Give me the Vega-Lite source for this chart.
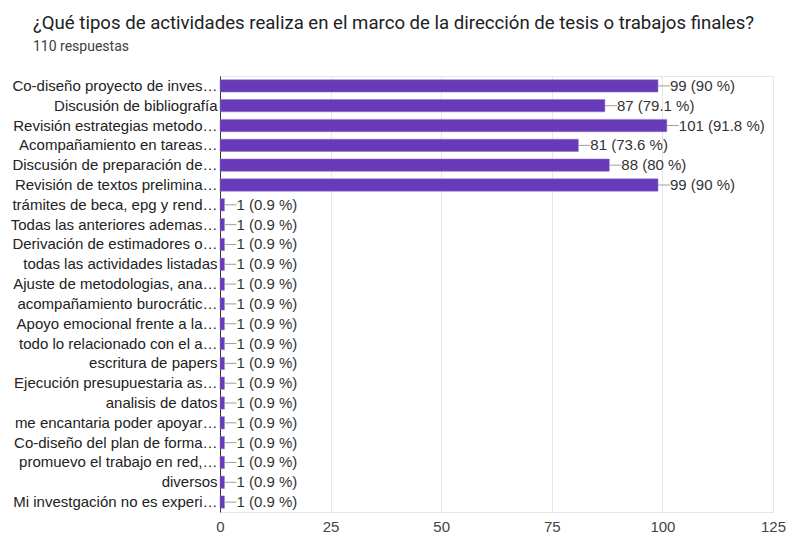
{
  "$schema": "https://vega.github.io/schema/vega-lite/v6.json",
  "autosize": "none",
  "width": 553,
  "height": 436,
  "padding": {"left": 220, "top": 76, "right": 14, "bottom": 24},
  "background": "white",
  "title": {
    "text": "¿Qué tipos de actividades realiza en el marco de la dirección de tesis o trabajos finales?",
    "subtitle": "110 respuestas",
    "anchor": "start",
    "frame": "group",
    "dx": -187,
    "offset": 22,
    "font": "Roboto",
    "fontSize": 18.6,
    "fontWeight": "normal",
    "color": "#202124",
    "subtitleFont": "Roboto",
    "subtitleFontSize": 14,
    "subtitleColor": "#3c4043",
    "subtitlePadding": 7
  },
  "config": {
    "view": {"stroke": "#e6e6e6", "strokeWidth": 1},
    "font": "Liberation Sans"
  },
  "data": {
    "values": [
      {"actividad": "Co-diseño proyecto de inves…", "n": 99, "label": "99 (90 %)"},
      {"actividad": "Discusión de bibliografía", "n": 87, "label": "87 (79.1 %)"},
      {"actividad": "Revisión estrategias metodo…", "n": 101, "label": "101 (91.8 %)"},
      {"actividad": "Acompañamiento en tareas…", "n": 81, "label": "81 (73.6 %)"},
      {"actividad": "Discusión de preparación de…", "n": 88, "label": "88 (80 %)"},
      {"actividad": "Revisión de textos prelimina…", "n": 99, "label": "99 (90 %)"},
      {"actividad": "trámites de beca, epg y rend…", "n": 1, "label": "1 (0.9 %)"},
      {"actividad": "Todas las anteriores ademas…", "n": 1, "label": "1 (0.9 %)"},
      {"actividad": "Derivación de estimadores o…", "n": 1, "label": "1 (0.9 %)"},
      {"actividad": "todas las actividades listadas", "n": 1, "label": "1 (0.9 %)"},
      {"actividad": "Ajuste de metodologias, ana…", "n": 1, "label": "1 (0.9 %)"},
      {"actividad": "acompañamiento burocrátic…", "n": 1, "label": "1 (0.9 %)"},
      {"actividad": "Apoyo emocional frente a la…", "n": 1, "label": "1 (0.9 %)"},
      {"actividad": "todo lo relacionado con el a…", "n": 1, "label": "1 (0.9 %)"},
      {"actividad": "escritura de papers", "n": 1, "label": "1 (0.9 %)"},
      {"actividad": "Ejecución presupuestaria as…", "n": 1, "label": "1 (0.9 %)"},
      {"actividad": "analisis de datos", "n": 1, "label": "1 (0.9 %)"},
      {"actividad": "me encantaria poder apoyar…", "n": 1, "label": "1 (0.9 %)"},
      {"actividad": "Co-diseño del plan de forma…", "n": 1, "label": "1 (0.9 %)"},
      {"actividad": "promuevo el trabajo en red,…", "n": 1, "label": "1 (0.9 %)"},
      {"actividad": "diversos", "n": 1, "label": "1 (0.9 %)"},
      {"actividad": "Mi investgación no es experi…", "n": 1, "label": "1 (0.9 %)"}
    ]
  },
  "encoding": {
    "y": {
      "field": "actividad",
      "type": "nominal",
      "sort": null,
      "scale": {"paddingInner": 0.38, "paddingOuter": 0.19},
      "axis": {
        "title": null,
        "ticks": false,
        "domain": true,
        "domainColor": "#333333",
        "domainWidth": 1,
        "labelFont": "Liberation Sans",
        "labelFontSize": 15,
        "labelColor": "#222222",
        "labelPadding": 3,
        "labelLimit": 0
      }
    },
    "x": {
      "field": "n",
      "type": "quantitative",
      "scale": {"domain": [0, 125], "nice": false},
      "axis": {
        "title": null,
        "values": [0, 25, 50, 75, 100, 125],
        "ticks": false,
        "domain": false,
        "grid": true,
        "gridColor": "#e6e6e6",
        "labelFont": "Liberation Sans",
        "labelFontSize": 15,
        "labelColor": "#444444",
        "labelPadding": 7,
        "labelFlush": false
      }
    }
  },
  "layer": [
    {
      "mark": {"type": "bar", "color": "#673ab7", "stroke": "#8e6bd0", "strokeWidth": 0.5}
    },
    {
      "mark": {"type": "rule", "color": "#9e9e9e", "strokeWidth": 1, "x2Offset": 12},
      "encoding": {"x2": {"field": "n"}}
    },
    {
      "mark": {"type": "text", "align": "left", "baseline": "middle", "dx": 12, "fontSize": 15, "color": "#333333", "font": "Liberation Sans"},
      "encoding": {"text": {"field": "label"}}
    }
  ]
}
